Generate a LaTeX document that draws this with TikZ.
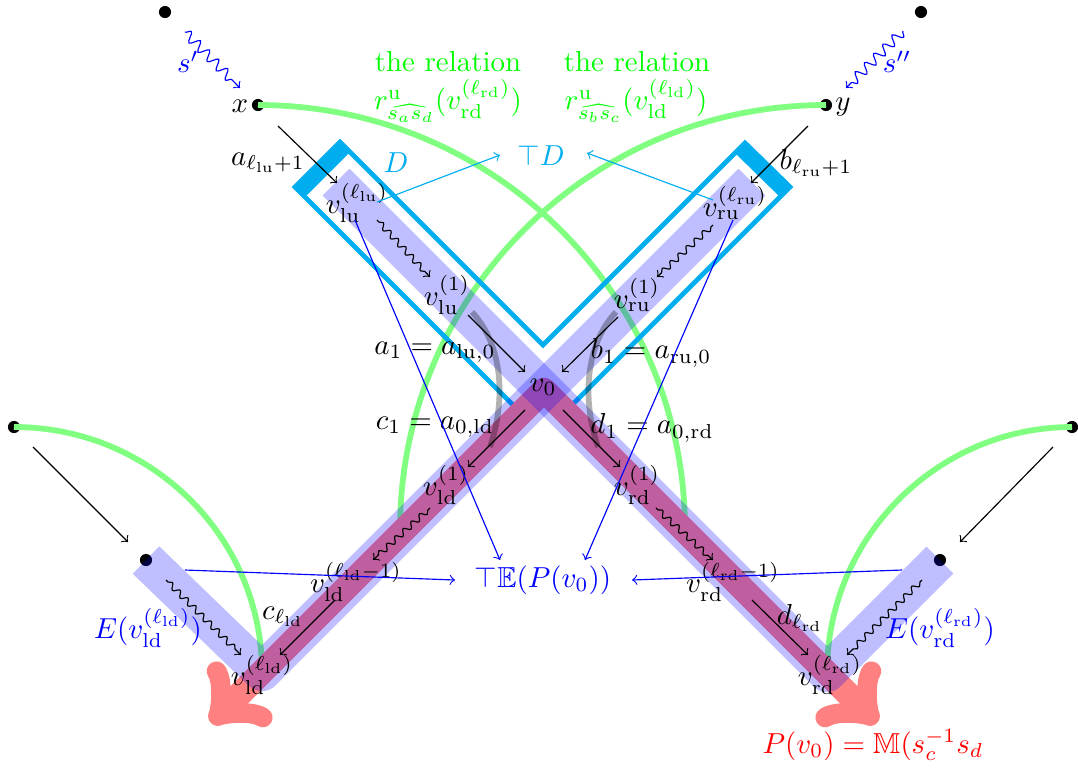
\documentclass[tikz,border=0pt]{standalone}
\usepackage{amsmath,amssymb}
\usetikzlibrary{decorations.pathmorphing}
\definecolor{dcyan}{RGB}{0,174,239}
\begin{document}
\begin{tikzpicture}[x=0.346pt,y=-0.346pt,
  dot/.style={circle,fill=black,inner sep=0pt,minimum size=4.2pt},
  garc/.style={draw=green!50,line width=2pt},
  band/.style={draw=blue,opacity=0.25,line width=13.2pt,line join=round},
  wig/.style={->,decorate,decoration={snake,amplitude=1pt,segment length=3.8pt,pre length=1pt,post length=2pt}},
  bwig/.style={->,blue,decorate,decoration={snake,amplitude=1.7pt,segment length=4.5pt,post length=2pt}},
  lab/.style={inner sep=0pt},
  thin arrow/.style={->},
  barrow/.style={->,blue},
  carrow/.style={->,dcyan},
  grayarc/.style={black,opacity=0.3,line width=2pt}
]
\useasboundingbox (0,0) rectangle (1078,767);

% dots
\node[dot] (TL) at (165,12) {};
\node[dot] (TR) at (921,12) {};
\node[dot] (x) at (258,105) {};
\node[dot] (y) at (826,105) {};
\node[dot] (FL) at (14,427) {};
\node[dot] (FR) at (1072,427) {};
\node[dot] (EL) at (146,560) {};
\node[dot] (ER) at (940,560) {};

\coordinate (v0) at (544,390);
\coordinate (ldend) at (262,672);
\coordinate (rdend) at (827,673);
\coordinate (luend) at (336,182);
\coordinate (ruend) at (752,182);
\coordinate (ldtip) at (211,723);
\coordinate (rdtip) at (877,723);

% green arcs
\draw[garc] (x.center) .. controls (494,105) and (685,295) .. (685,530);
\draw[garc] (y.center) .. controls (590,105) and (400,295) .. (400,530);
\draw[garc] (FL.center) .. controls (151,427) and (262,537) .. (ldend);
\draw[garc] (FR.center) .. controls (938,427) and (827,537) .. (rdend);

% cyan box D
\draw[dcyan,line width=1.7pt,line join=miter] (521,413) -- (295,187) -- (340,142) -- (543,345) -- (745,143) -- (790,187) -- (565.5,411.5);
\fill[dcyan] (293,187)--(340,140)--(351,151)--(304,198)--cycle;
\fill[dcyan] (745,141)--(792,187)--(781,198)--(734,152)--cycle;

% red path
\draw[red!50,line width=8.5pt,line join=round,<->] (ldtip) -- (v0) -- (rdtip);

% blue bands
\draw[band] (EL.center) -- (ldend) -- (ruend);
\draw[band] (ER.center) -- (rdend) -- (luend);

% gray arcs
\draw[grayarc] (472,312) .. controls (503,345) and (506,400) .. (490,447);
\draw[grayarc] (616,312) .. controls (585,345) and (582,400) .. (598,447);

% labels
\node[lab] (xl) at (240,106) {$x$};
\node[lab] (yl) at (843,107) {$y$};
\node[lab,blue] (sp) at (188,62) {$s'$};
\node[lab,blue] (spp) at (897,62) {$s''$};
\node[lab,green] (rel1) at (448,62) {the relation};
\node[lab,green] (rel2) at (637,62) {the relation};
\node[lab,green] (r1) at (448,101) {$r^{\mathrm{u}}_{\widehat{s_a s_d}}(v_{\mathrm{rd}}^{(\ell_{\mathrm{rd}})})$};
\node[lab,green] (r2) at (636,101) {$r^{\mathrm{u}}_{\widehat{s_b s_c}}(v_{\mathrm{ld}}^{(\ell_{\mathrm{ld}})})$};
\node[lab,dcyan] (D) at (396,163) {$D$};
\node[lab,dcyan] (TD) at (541,155) {$\top D$};
\node[lab] (alu) at (268,163) {$a_{\ell_{\mathrm{lu}}+1}$};
\node[lab] (bru) at (816,163) {$b_{\ell_{\mathrm{ru}}+1}$};
\node[lab] (vlul) at (357,203) {$v_{\mathrm{lu}}^{(\ell_{\mathrm{lu}})}$};
\node[lab] (vrul) at (735,203) {$v_{\mathrm{ru}}^{(\ell_{\mathrm{ru}})}$};
\node[lab] (vlu1) at (447,295) {$v_{\mathrm{lu}}^{(1)}$};
\node[lab] (vru1) at (637,295) {$v_{\mathrm{ru}}^{(1)}$};
\node[lab] (v0l) at (543,387) {$v_0$};
\node[lab] (a1) at (435,352) {$a_1 = a_{\mathrm{lu},0}$};
\node[lab] (b1) at (651,353) {$b_1 = a_{\mathrm{ru},0}$};
\node[lab] (c1) at (435,427) {$c_1 = a_{0,\mathrm{ld}}$};
\node[lab] (d1) at (652,428) {$d_1 = a_{0,\mathrm{rd}}$};
\node[lab] (vld1) at (446,485) {$v_{\mathrm{ld}}^{(1)}$};
\node[lab] (vrd1) at (637,485) {$v_{\mathrm{rd}}^{(1)}$};
\node[lab] (vldm) at (356,582) {$v_{\mathrm{ld}}^{(\ell_{\mathrm{ld}}-1)}$};
\node[lab] (vrdm) at (733,582) {$v_{\mathrm{rd}}^{(\ell_{\mathrm{rd}}-1)}$};
\node[lab] (cl) at (283,617) {$c_{\ell_{\mathrm{ld}}}$};
\node[lab] (dl) at (800,618) {$d_{\ell_{\mathrm{rd}}}$};
\node[lab] (vldl) at (262,675) {$v_{\mathrm{ld}}^{(\ell_{\mathrm{ld}})}$};
\node[lab] (vrdl) at (830,675) {$v_{\mathrm{rd}}^{(\ell_{\mathrm{rd}})}$};
\node[lab,blue] (Eld) at (148,628) {$E(v_{\mathrm{ld}}^{(\ell_{\mathrm{ld}})})$};
\node[lab,blue] (Erd) at (940,628) {$E(v_{\mathrm{rd}}^{(\ell_{\mathrm{rd}})})$};
\node[lab,blue] (TE) at (543,580) {$\top\mathbb{E}(P(v_0))$};
\node[lab,red] (P) at (873,745) {$P(v_0) = \mathbb{M}(s_c^{-1}s_d$};

% blue snakes
\draw[bwig] (185,32) -- (240,88);
\draw[bwig] (903,31) -- (846,88);

% black arrows
\draw[thin arrow] (278,126) -- (337,183);
\draw[thin arrow] (808,126) -- (751,183);
\draw[wig] (377,220) -- (430,277);
\draw[wig] (713,225) -- (657,277);
\draw[thin arrow] (468,315) -- (525,372);
\draw[thin arrow] (618,317) -- (562,372);
\draw[thin arrow] (525,410) -- (468,467);
\draw[thin arrow] (563,410) -- (620,467);
\draw[wig] (430,508) -- (373,560);
\draw[wig] (656,508) -- (713,560);
\draw[thin arrow] (335,600) -- (280,655);
\draw[thin arrow] (752,600) -- (808,655);
\draw[thin arrow] (33,447) -- (128,542);
\draw[thin arrow] (1053,447) -- (960,542);
\draw[wig] (166,580) -- (241,655);
\draw[wig] (922,580) -- (847,655);

% blue arrows to TE
\draw[barrow] (355,220) -- (500,560);
\draw[barrow] (733,220) -- (585,560);
\draw[barrow] (185,570) -- (455,580);
\draw[barrow] (902,570) -- (632,580);

% cyan arrows to TD
\draw[carrow] (377,202) -- (500,155);
\draw[carrow] (713,200) -- (587,153);
\end{tikzpicture}
\end{document}
